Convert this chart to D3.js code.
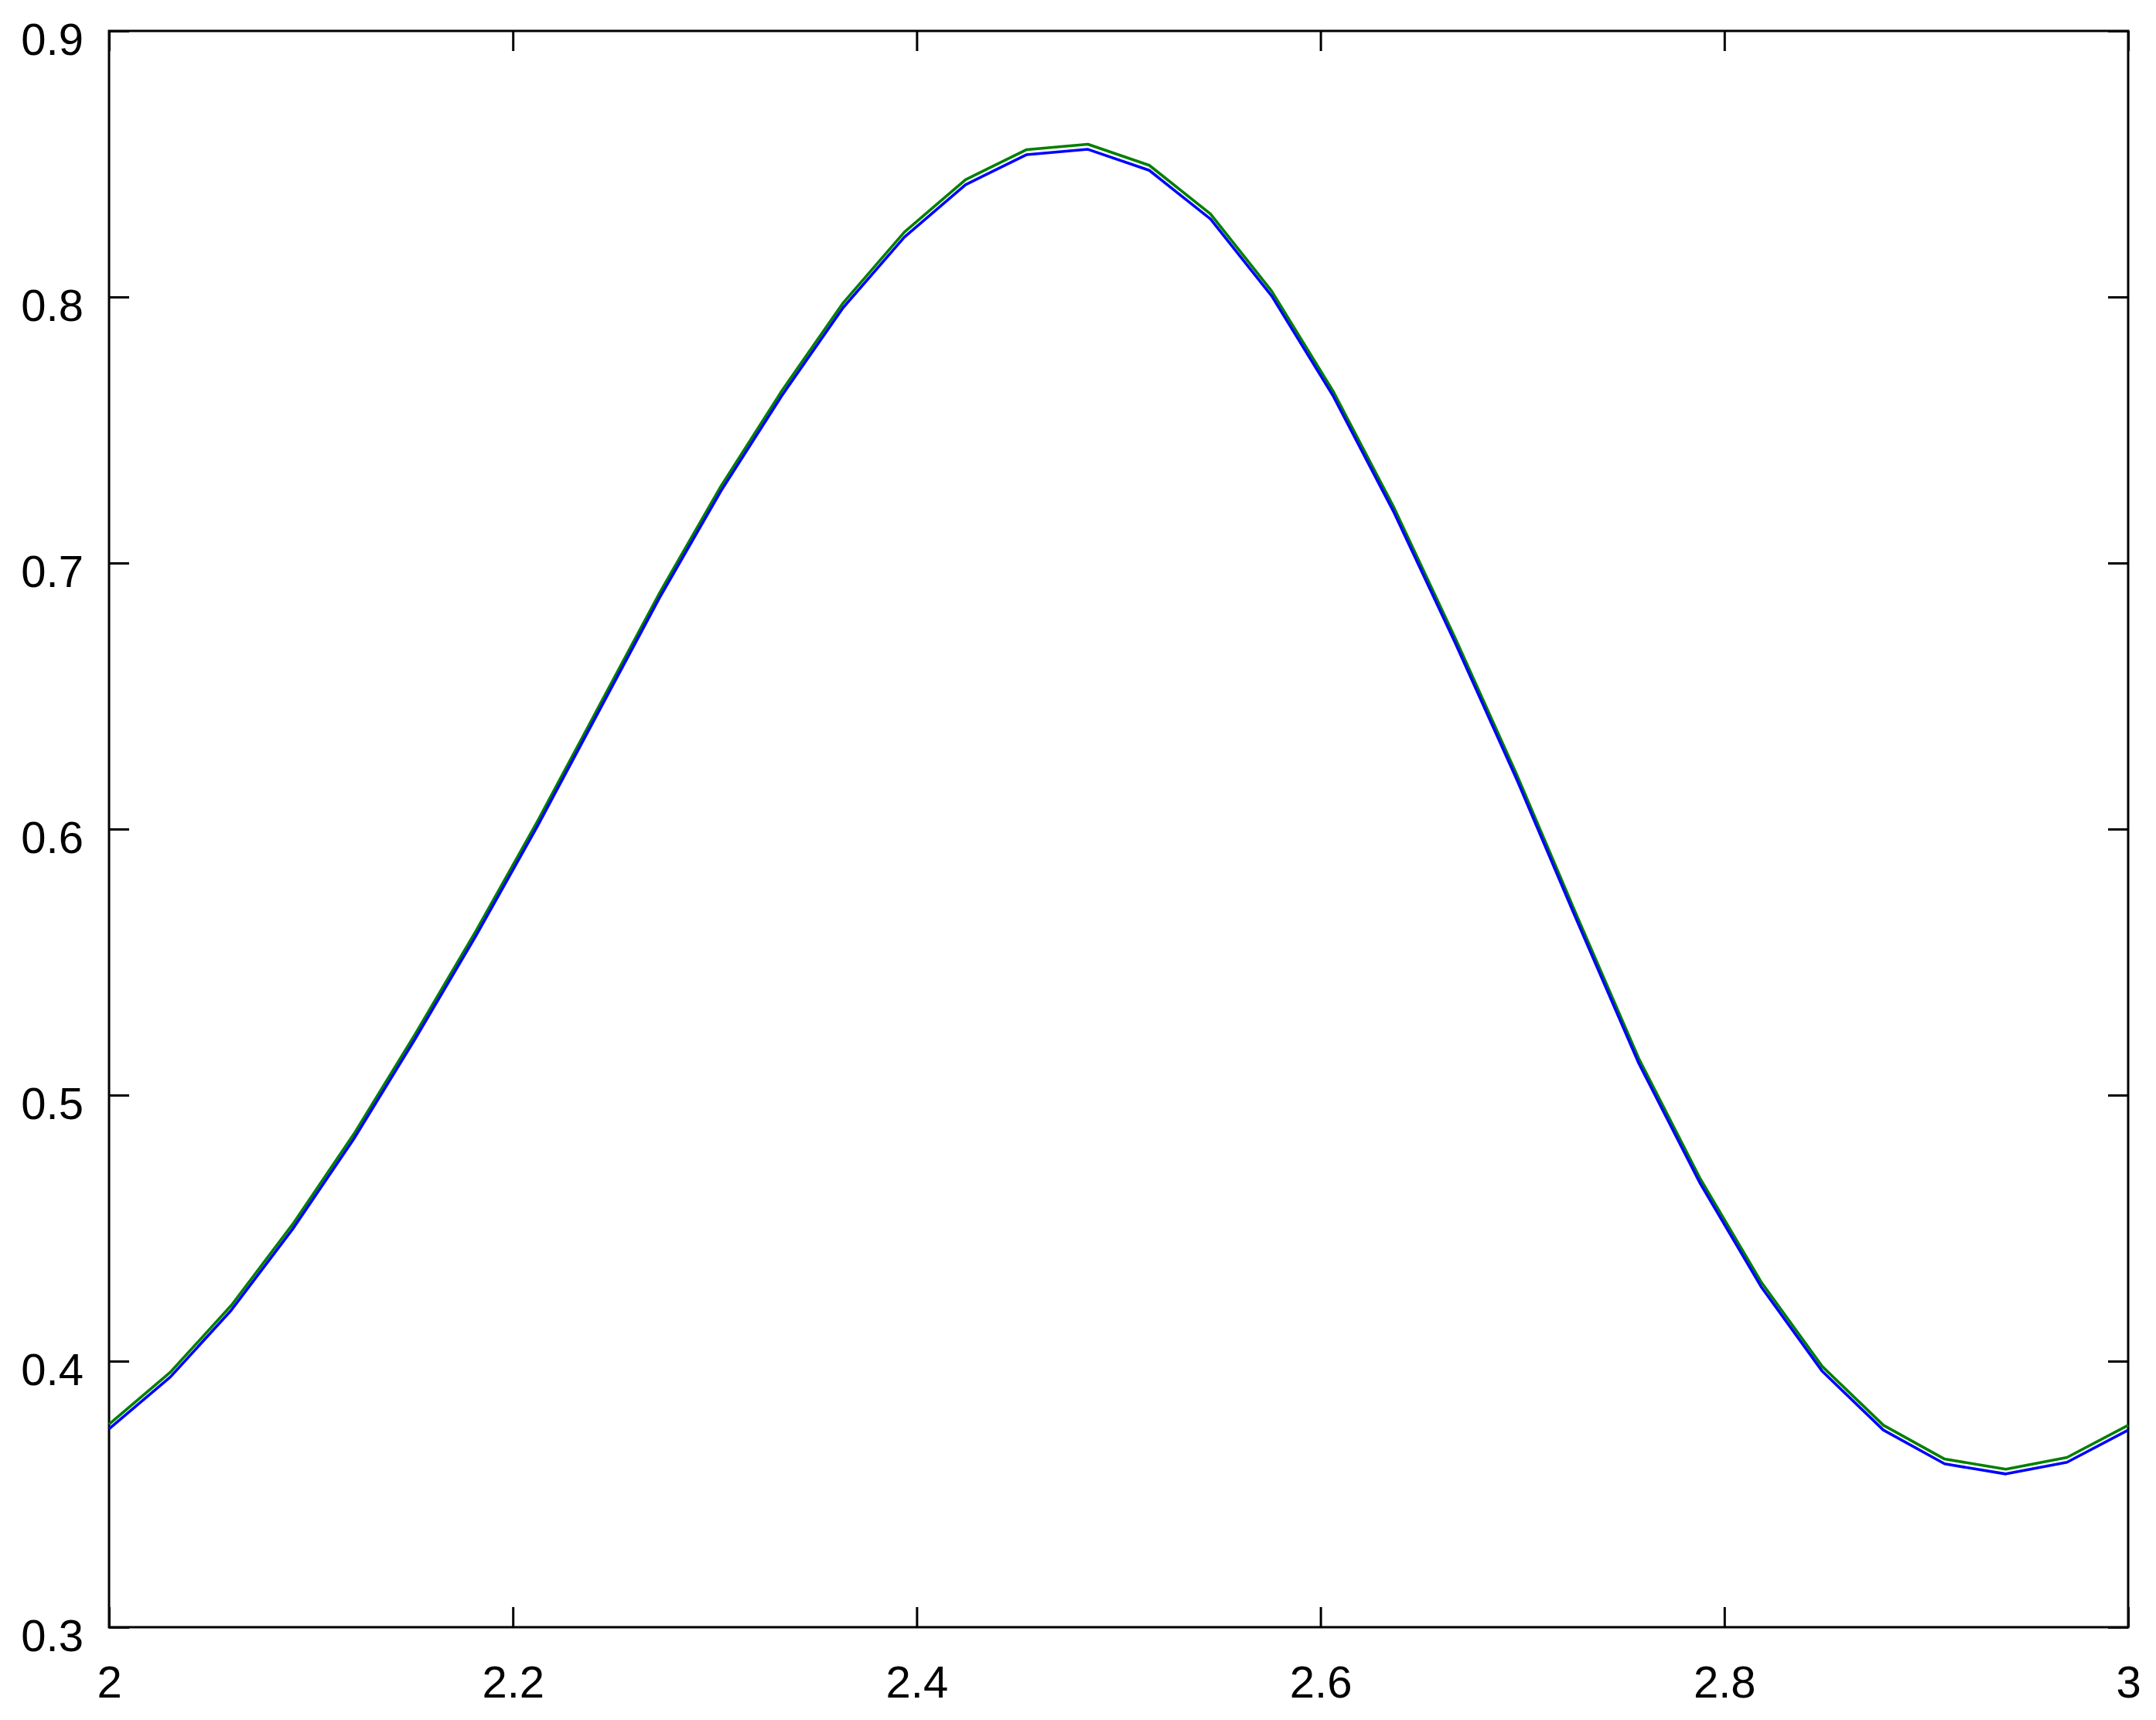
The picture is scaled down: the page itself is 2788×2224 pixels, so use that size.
<!DOCTYPE html>
<html>
<head>
<meta charset="utf-8">
<script src="https://d3js.org/d3.v7.min.js"></script>
<style>
	body { margin: 0; background: #fff; }
	svg { display: block; }
	.tick line { stroke: #000; stroke-width: 3; }
	.tick text { font-family: "Liberation Sans", Arial, sans-serif; font-size: 58px; fill: #000; }
</style>
</head>
<body>
<svg id="chart" width="2788" height="2224"></svg>
<script>
// sample positions (34 points between 2 and 3)
var xValues = [2.0000, 2.0303, 2.0606, 2.0909, 2.1212, 2.1515, 2.1818, 2.2121, 2.2424, 2.2727,
	2.3030, 2.3333, 2.3636, 2.3939, 2.4242, 2.4545, 2.4848, 2.5152, 2.5455, 2.5758,
	2.6061, 2.6364, 2.6667, 2.6970, 2.7273, 2.7576, 2.7879, 2.8182, 2.8485, 2.8788,
	2.9091, 2.9394, 2.9697, 3.0000];

var blueValues = [0.3745, 0.3940, 0.4192, 0.4496, 0.4835, 0.5210, 0.5600, 0.6010, 0.6440, 0.6870,
	0.7270, 0.7630, 0.7960, 0.8225, 0.8422, 0.8535, 0.8555, 0.8476, 0.8293, 0.8004,
	0.7630, 0.7190, 0.6700, 0.6190, 0.5650, 0.5120, 0.4670, 0.4280, 0.3962, 0.3741,
	0.3614, 0.3576, 0.3620, 0.3741];

var greenValues = [0.3763, 0.3958, 0.4210, 0.4514, 0.4853, 0.5228, 0.5618, 0.6028, 0.6458, 0.6888,
	0.7288, 0.7648, 0.7978, 0.8244, 0.8441, 0.8554, 0.8574, 0.8495, 0.8312, 0.8022,
	0.7648, 0.7208, 0.6718, 0.6208, 0.5668, 0.5138, 0.4688, 0.4298, 0.3980, 0.3759,
	0.3632, 0.3594, 0.3638, 0.3759];

var xTicks = [2, 2.2, 2.4, 2.6, 2.8, 3];
var yTicks = [0.3, 0.4, 0.5, 0.6, 0.7, 0.8, 0.9];

var plotLeft = 141, plotRight = 2752, plotTop = 40, plotBottom = 2104;
var tickLen = 26;

var svg = d3.select("#chart");

var x = d3.scaleLinear().domain([2, 3]).range([plotLeft, plotRight]);
var y = d3.scaleLinear().domain([0.3, 0.9]).range([plotBottom, plotTop]);

var fmt = function(d){ return String(+d.toFixed(1)); };

// axes, ticks pointing inward
svg.append("g")
.attr("transform", "translate(0," + plotBottom + ")")
.call(d3.axisBottom(x).tickValues(xTicks).tickSize(-tickLen).tickPadding(47).tickFormat(fmt))
.call(function(g){ g.select(".domain").remove(); })
.selectAll("text").attr("dy", null).attr("y", 91);

svg.append("g")
.attr("transform", "translate(0," + plotTop + ")")
.call(d3.axisTop(x).tickValues(xTicks).tickSize(-tickLen).tickFormat(""))
.call(function(g){ g.select(".domain").remove(); });

svg.append("g")
.attr("transform", "translate(" + plotLeft + ",0)")
.call(d3.axisLeft(y).tickValues(yTicks).tickSize(-tickLen).tickPadding(33).tickFormat(fmt))
.call(function(g){ g.select(".domain").remove(); })
.selectAll("text").attr("dy", null).attr("y", 30);

svg.append("g")
.attr("transform", "translate(" + plotRight + ",0)")
.call(d3.axisRight(y).tickValues(yTicks).tickSize(-tickLen).tickFormat(""))
.call(function(g){ g.select(".domain").remove(); });

svg.append("rect")
.attr("x", plotLeft)
.attr("y", plotTop)
.attr("width", plotRight - plotLeft)
.attr("height", plotBottom - plotTop)
.attr("fill", "none")
.attr("stroke", "#000")
.attr("stroke-width", 3);

var line = d3.line()
.x(function(d){ return x(d[0]); })
.y(function(d){ return y(d[1]); });

var series = [
	{ color: "#008000", values: greenValues },
	{ color: "#0000ff", values: blueValues }
];

svg.selectAll(".series")
.data(series)
.enter().append("path")
.attr("class", "series")
.attr("fill", "none")
.attr("stroke", function(d){ return d.color; })
.attr("stroke-width", 3.6)
.attr("stroke-linejoin", "round")
.attr("d", function(d){ return line(xValues.map(function(v, i){ return [v, d.values[i]]; })); });
</script>
</body>
</html>
